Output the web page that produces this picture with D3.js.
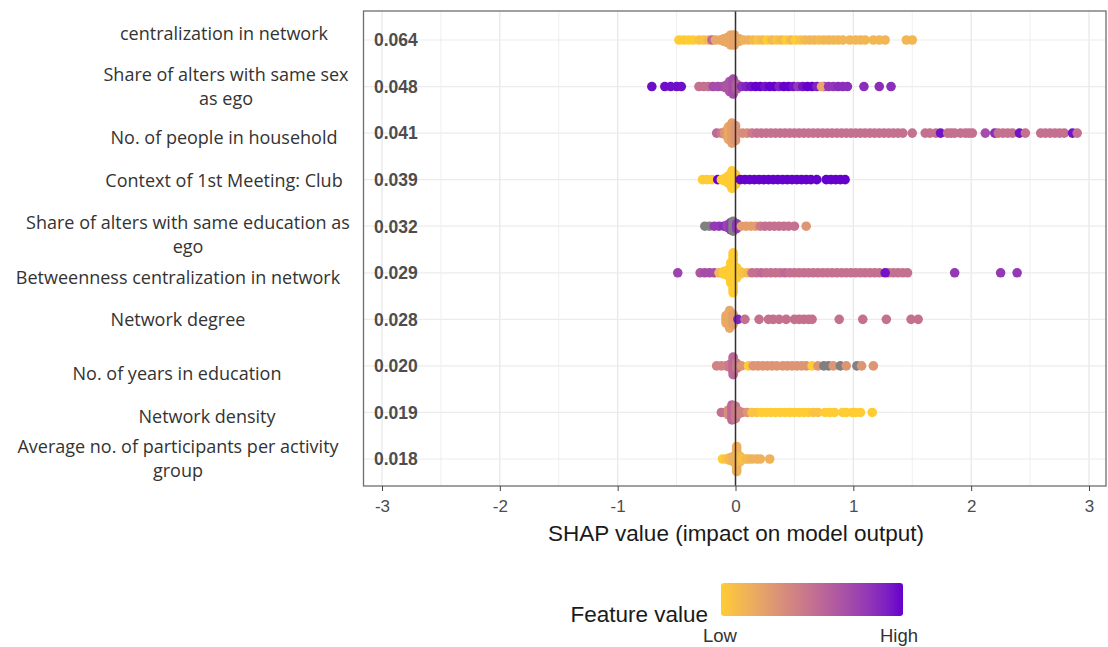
<!DOCTYPE html>
<html>
<head>
<meta charset="utf-8">
<script src="https://cdn.jsdelivr.net/npm/d3@7"></script>
<style>
  body { margin: 0; background: #fff; }
  text { font-family: "Liberation Sans", Arial, sans-serif; }
  .flabel { font-family: "Open Sans", sans-serif; }
</style>
</head>
<body>
<div id="chart"></div>
<script>
'use strict';

// feature names, as split onto lines in the picture
const featureLines = [
  ['centralization in network'],
  ['Share of alters with same sex', 'as ego'],
  ['No. of people in household'],
  ['Context of 1st Meeting: Club'],
  ['Share of alters with same education as', 'ego'],
  ['Betweenness centralization in network'],
  ['Network degree'],
  ['No. of years in education'],
  ['Network density'],
  ['Average no. of participants per activity', 'group']
];
const importance = ['0.064', '0.048', '0.041', '0.039', '0.032', '0.029', '0.028', '0.020', '0.019', '0.018'];
const xTicks = [-3, -2, -1, 0, 1, 2, 3];

// [shap value, feature value (0 low .. 1 high, null = missing), number of stacked points]
const centralization = [
  [-0.48,0,1],[-0.44,0,1],[-0.40,0,1],[-0.36,0,1],[-0.31,0.05,1],[-0.27,0.05,1],[-0.23,0.1,1],[-0.20,0.55,1],
  [-0.17,0.2,1],[-0.13,0.2,1],[-0.10,0.2,2],[-0.07,0.2,3],[-0.04,0.2,5],[-0.01,0.22,5],
  [0.03,0.2,2],[0.07,0.15,1],[0.11,0.15,1],[0.15,0.1,1],[0.19,0.05,1],[0.23,0.1,1],[0.27,0,1],[0.31,0.1,1],
  [0.35,0.05,1],[0.39,0.1,1],[0.43,0,1],[0.47,0.1,1],[0.51,0,1],[0.55,0.05,1],[0.59,0.1,1],[0.63,0.12,1],
  [0.67,0.12,1],[0.71,0.1,1],[0.75,0.12,1],[0.79,0.12,1],[0.83,0.12,1],[0.87,0.12,1],[0.91,0.12,1],
  [0.97,0.12,1],[1.02,0.12,1],[1.06,0.12,1],[1.10,0.12,1],[1.17,0.12,1],[1.22,0.12,1],[1.27,0.12,1],
  [1.45,0.12,1],[1.50,0.12,1]
];
const sameSex = [
  [-0.71,0.97,1],[-0.60,0.97,1],[-0.55,0.97,1],[-0.50,0.97,1],[-0.46,0.97,1],
  [-0.31,0.5,1],[-0.27,0.5,1],[-0.23,0.5,1],[-0.19,0.7,1],[-0.15,0.7,1],[-0.11,0.7,1],[-0.08,0.65,2],
  [-0.05,0.65,5],[-0.02,0.7,7],[0.01,0.6,3],
  [0.05,0.85,1],[0.09,0.9,1],[0.13,0.95,1],[0.17,1,1],[0.21,1,1],[0.25,0.95,1],[0.29,1,1],[0.33,1,1],
  [0.37,0.9,1],[0.41,1,1],[0.45,1,1],[0.49,0.95,1],[0.53,0.8,1],[0.57,0.95,1],[0.61,1,1],[0.65,1,1],
  [0.69,0.9,1],[0.75,0.8,1],[0.73,0.2,1],[0.79,0.8,1],[0.83,0.8,1],[0.87,0.85,1],[0.91,0.85,1],[0.95,0.85,1],
  [1.09,0.85,1],[1.22,0.85,1],[1.32,0.85,1]
];
const household = [
  [-0.16,0.55,1],[-0.12,0.45,1],[-0.09,0.3,2],[-0.06,0.2,6],[-0.03,0.25,9],[0.00,0.3,7],
  [0.06,0.35,1],[0.10,0.35,1],[0.14,0.45,1],[0.18,0.5,1],[0.22,0.5,1],[0.26,0.5,1],[0.30,0.5,1],[0.34,0.5,1],
  [0.38,0.5,1],[0.42,0.5,1],[0.46,0.5,1],[0.50,0.5,1],[0.54,0.5,1],[0.58,0.5,1],[0.62,0.5,1],[0.66,0.5,1],
  [0.70,0.5,1],[0.74,0.5,1],[0.78,0.5,1],[0.82,0.5,1],[0.86,0.5,1],[0.90,0.5,1],[0.94,0.5,1],[0.98,0.5,1],
  [1.02,0.5,1],[1.06,0.5,1],[1.10,0.5,1],[1.14,0.5,1],[1.18,0.5,1],[1.22,0.5,1],[1.26,0.5,1],[1.30,0.5,1],
  [1.34,0.5,1],[1.38,0.5,1],[1.42,0.5,1],
  [1.50,0.5,1],[1.61,0.5,1],[1.65,0.5,1],[1.70,0.5,1],[1.74,0.95,1],[1.80,0.5,1],[1.83,0.5,1],[1.86,0.5,1],
  [1.91,0.5,1],[1.95,0.5,1],[1.98,0.5,1],[2.01,0.5,1],[2.12,0.7,1],[2.20,0.85,1],[2.23,0.5,1],[2.27,0.5,1],
  [2.31,0.5,1],[2.35,0.5,1],[2.41,0.95,1],[2.46,0.5,1],[2.59,0.5,1],[2.63,0.5,1],[2.67,0.5,1],[2.71,0.5,1],
  [2.75,0.5,1],[2.79,0.5,1],[2.86,0.95,1],[2.90,0.5,1]
];
const club = [
  [-0.28,0,1],[-0.24,0,1],[-0.20,0,1],[-0.15,1,1],[-0.12,0,1],[-0.09,0,2],[-0.06,0,4],[-0.03,0,8],[0.00,0,5],
  [0.04,1,1],[0.08,1,1],[0.12,1,1],[0.16,1,1],[0.20,1,1],[0.24,1,1],[0.28,1,1],[0.32,1,1],[0.36,1,1],
  [0.40,1,1],[0.44,1,1],[0.48,1,1],[0.52,1,1],[0.56,1,1],[0.60,1,1],[0.64,1,1],
  [0.69,1,1],[0.77,1,1],[0.81,1,1],[0.85,1,1],[0.89,1,1],[0.93,1,1]
];
const sameEducation = [
  [-0.26,null,1],[-0.22,null,1],[-0.18,0.8,1],[-0.14,0.8,1],[-0.10,0.85,1],[-0.07,0.75,2],[-0.04,0.8,4],
  [-0.02,null,5],[0.01,0.8,3],
  [0.05,0.25,1],[0.09,0.25,1],[0.13,0.25,1],[0.17,0.25,1],[0.21,0.45,1],[0.25,0.5,1],[0.29,0.5,1],
  [0.33,0.5,1],[0.37,0.5,1],[0.41,0.5,1],[0.45,0.5,1],[0.50,0.5,1],[0.60,0.3,1]
];
const betweenness = [
  [-0.49,0.75,1],[-0.30,0.65,1],[-0.26,0.7,1],[-0.22,0.7,1],[-0.18,0.7,1],[-0.14,0.1,1],[-0.10,0,2],
  [-0.07,0,3],[-0.04,0,9],[-0.02,0,17],[0.01,0,5],[0.04,0,2],
  [0.06,0.05,1],[0.10,0.1,1],[0.14,0.5,1],[0.18,0.5,1],[0.22,0.55,1],[0.26,0.5,1],[0.30,0.5,1],[0.34,0.5,1],
  [0.38,0.5,1],[0.42,0.55,1],[0.46,0.5,1],[0.50,0.5,1],[0.54,0.5,1],[0.58,0.5,1],[0.62,0.5,1],[0.66,0.5,1],
  [0.70,0.5,1],[0.74,0.5,1],[0.78,0.5,1],[0.82,0.5,1],[0.86,0.5,1],[0.90,0.5,1],[0.94,0.5,1],[0.98,0.5,1],
  [1.02,0.5,1],[1.06,0.5,1],[1.10,0.5,1],[1.14,0.5,1],[1.18,0.5,1],[1.22,0.5,1],[1.30,0.5,1],[1.34,0.5,1],
  [1.38,0.5,1],[1.42,0.5,1],[1.46,0.5,1],[1.27,0.95,1],
  [1.86,0.8,1],[2.25,0.8,1],[2.39,0.8,1]
];
const degree = [
  [-0.08,0.2,4],[-0.05,0.2,8],[-0.02,0.25,5],[0.02,0.9,1],
  [0.08,0.5,1],[0.20,0.5,1],[0.28,0.5,1],[0.32,0.5,1],[0.37,0.5,1],[0.43,0.5,1],[0.50,0.5,1],[0.54,0.5,1],
  [0.58,0.5,1],[0.62,0.5,1],[0.65,0.5,1],[0.88,0.5,1],[1.08,0.5,1],[1.28,0.5,1],[1.49,0.5,1],[1.55,0.5,1]
];
const yearsEducation = [
  [-0.16,0.4,1],[-0.12,0.4,1],[-0.08,0.4,1],[-0.05,0.45,2],[-0.02,0.55,8],[0.01,0.45,3],
  [0.05,0.3,1],[0.11,0,1],[0.15,0.3,1],[0.19,0.3,1],[0.23,0.3,1],[0.27,0.3,1],[0.31,0.3,1],[0.35,0.3,1],
  [0.40,0.3,1],[0.44,0.3,1],[0.48,0.3,1],[0.52,0.3,1],[0.56,0.3,1],[0.60,0.3,1],[0.65,0,1],[0.70,0.3,1],
  [0.75,null,1],[0.79,null,1],[0.83,0.3,1],[0.89,null,1],[0.94,0.3,1],[1.03,null,1],[1.07,0.3,1],[1.17,0.3,1]
];
const density = [
  [-0.12,0.5,1],[-0.09,0.5,1],[-0.06,0.35,3],[-0.03,0.55,7],[0.00,0.45,6],[0.03,0.4,2],
  [0.06,0.4,1],[0.10,0.3,1],[0.14,0.05,1],[0.18,0.05,1],[0.22,0,1],[0.26,0,1],[0.30,0,1],[0.34,0,1],
  [0.38,0,1],[0.42,0,1],[0.46,0,1],[0.50,0,1],[0.54,0,1],[0.58,0,1],[0.62,0,1],[0.66,0.05,1],[0.70,0.05,1],
  [0.76,0,1],[0.80,0,1],[0.84,0,1],[0.91,0,1],[0.94,0,1],[0.99,0,1],[1.02,0,1],[1.06,0,1],[1.16,0,1]
];
const participants = [
  [-0.11,0,1],[-0.08,0.05,1],[-0.05,0.1,2],[-0.02,0.15,3],[0.01,0.15,11],[0.04,0.1,3],[0.06,0.05,1],
  [0.09,0.1,1],[0.11,0.1,1],[0.14,0.15,1],[0.18,0.15,1],[0.21,0.15,1],[0.29,0.15,1]
];
const shapRows = [centralization, sameSex, household, club, sameEducation, betweenness, degree,
  yearsEducation, density, participants];

const W = 1108, H = 647;
const panel = { left: 363.5, right: 1106, top: 11, bottom: 486 };

const svg = d3.select('#chart').append('svg')
    .attr('width', W)
    .attr('height', H);

const x = d3.scaleLinear()
    .domain([-3, 3])
    .range([382, 1089]);

const y = d3.scalePoint()
    .domain(d3.range(importance.length))
    .range([40, 459]);

const color = d3.scaleLinear()
    .domain([0, 1])
    .range(['#FFCC33', '#6600CC'])
    .interpolate(d3.interpolateLab);

// grid
const grid = svg.append('g');
grid.selectAll('.vgrid')
    .data(d3.range(-3, 3.01, 0.5))
  .enter().append('line')
    .attr('x1', d => x(d)).attr('x2', d => x(d))
    .attr('y1', panel.top).attr('y2', panel.bottom)
    .attr('stroke', d => Number.isInteger(d) ? '#e6e6e6' : '#efefef')
    .attr('stroke-width', d => Number.isInteger(d) ? 1.2 : 1);
grid.selectAll('.hgrid')
    .data(y.domain())
  .enter().append('line')
    .attr('x1', panel.left).attr('x2', panel.right)
    .attr('y1', d => y(d)).attr('y2', d => y(d))
    .attr('stroke', '#ececec')
    .attr('stroke-width', 1.2);

// points, stacked vertically where several share one value
const step = 2.5;
const pts = [];
shapRows.forEach((row, i) => {
  row.forEach(([v, f, n]) => {
    for (let k = 0; k < n; k++) {
      pts.push({ v, f, cy: y(i) + (k - (n - 1) / 2) * step });
    }
  });
});
svg.append('g').selectAll('circle')
    .data(pts)
  .enter().append('circle')
    .attr('cx', d => x(d.v))
    .attr('cy', d => d.cy)
    .attr('r', 4.8)
    .attr('fill', d => d.f == null ? '#808080' : color(d.f));

// zero line
svg.append('line')
    .attr('x1', x(0)).attr('x2', x(0))
    .attr('y1', panel.top).attr('y2', panel.bottom)
    .attr('stroke', '#333')
    .attr('stroke-width', 1.5);

// importance labels
svg.append('g').selectAll('text')
    .data(importance)
  .enter().append('text')
    .attr('x', 374)
    .attr('y', (d, i) => y(i))
    .attr('dy', '0.36em')
    .attr('font-size', 17.5)
    .attr('font-weight', 'bold')
    .attr('fill', '#4d4d4d')
    .text(d => d);

// panel border
svg.append('rect')
    .attr('x', panel.left).attr('y', panel.top)
    .attr('width', panel.right - panel.left)
    .attr('height', panel.bottom - panel.top)
    .attr('fill', 'none')
    .attr('stroke', '#6e6e6e')
    .attr('stroke-width', 1.3);

// x axis
const xAxis = d3.axisBottom(x)
    .tickValues(xTicks)
    .tickSize(5)
    .tickPadding(9)
    .tickFormat(d => String(d));
const gx = svg.append('g')
    .attr('transform', `translate(0, ${panel.bottom})`)
    .call(xAxis);
gx.select('.domain').remove();
gx.selectAll('line').attr('stroke', '#444');
gx.selectAll('text')
    .attr('font-size', 17)
    .attr('font-family', '"Liberation Sans", Arial, sans-serif')
    .attr('fill', '#4d4d4d');

svg.append('text')
    .attr('x', 736)
    .attr('y', 541)
    .attr('text-anchor', 'middle')
    .attr('font-size', 22.5)
    .attr('fill', '#1a1a1a')
    .text('SHAP value (impact on model output)');

// feature names on the left (pasted-in labels, centred where they sit in the picture)
const labelPos = [[224, 34], [226, 75], [224, 138], [224, 181], [188, 223], [178, 278], [178, 320],
  [177, 374], [207, 417], [178, 447]];
const lab = svg.append('g');
featureLines.forEach((lines, i) => {
  lines.forEach((t, j) => {
    lab.append('text')
        .attr('class', 'flabel')
        .attr('x', labelPos[i][0])
        .attr('y', labelPos[i][1] + j * 24)
        .attr('dy', '0.35em')
        .attr('text-anchor', 'middle')
        .attr('font-size', 18)
        .attr('fill', '#333')
        .text(t);
  });
});

// legend
const defs = svg.append('defs');
const grad = defs.append('linearGradient').attr('id', 'fv');
d3.range(0, 1.001, 0.1).forEach(t => {
  grad.append('stop').attr('offset', t).attr('stop-color', color(t));
});
svg.append('rect')
    .attr('x', 721).attr('y', 583)
    .attr('width', 182).attr('height', 33)
    .attr('rx', 3)
    .attr('fill', 'url(#fv)');
svg.append('text')
    .attr('x', 708).attr('y', 622)
    .attr('text-anchor', 'end')
    .attr('font-size', 22.5)
    .attr('fill', '#1a1a1a')
    .text('Feature value');
svg.append('text')
    .attr('x', 720).attr('y', 642)
    .attr('text-anchor', 'middle')
    .attr('font-size', 18.5)
    .attr('fill', '#333')
    .text('Low');
svg.append('text')
    .attr('x', 899).attr('y', 642)
    .attr('text-anchor', 'middle')
    .attr('font-size', 18.5)
    .attr('fill', '#333')
    .text('High');
</script>
</body>
</html>
